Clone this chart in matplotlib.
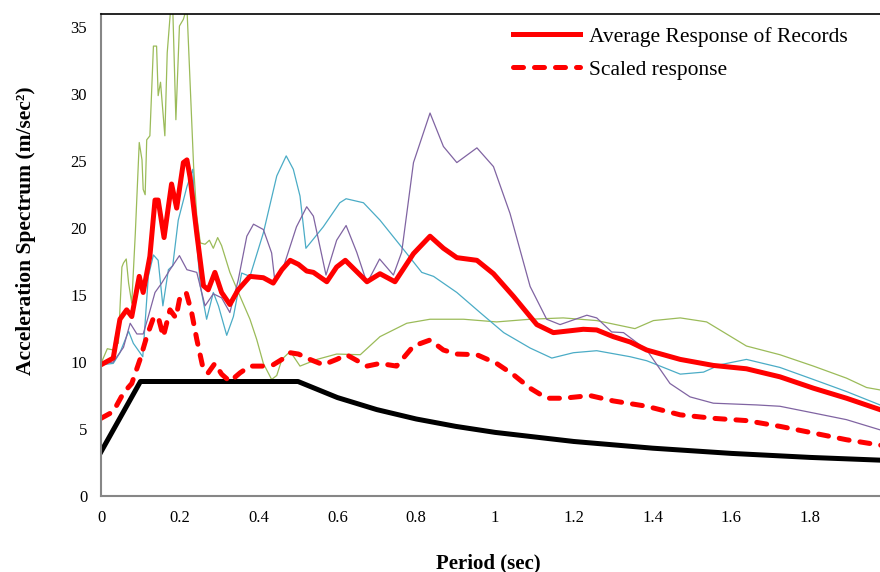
import matplotlib
matplotlib.use("Agg")
import matplotlib.pyplot as plt

plt.rcParams['font.family'] = ['Liberation Serif', 'DejaVu Serif']

# design (code) spectrum
code_t = [0, 0.1, 0.5, 0.6, 0.7, 0.8, 0.9, 1.0, 1.2, 1.4, 1.6, 1.8, 2.0]
code_s = [3.3, 8.55, 8.55, 7.35, 6.45, 5.75, 5.2, 4.75, 4.07, 3.57, 3.18, 2.88, 2.65]

# average of the records
avg_t = [0, 0.031, 0.048, 0.065, 0.078, 0.097, 0.107, 0.124, 0.137, 0.145, 0.16, 0.179,
         0.192, 0.209, 0.218, 0.226, 0.243, 0.26, 0.272, 0.289, 0.306, 0.327, 0.348,
         0.378, 0.412, 0.437, 0.459, 0.48, 0.501, 0.522, 0.539, 0.573, 0.598, 0.62,
         0.675, 0.708, 0.746, 0.793, 0.835, 0.869, 0.903, 0.954, 0.996, 1.047, 1.106,
         1.148, 1.224, 1.258, 1.3, 1.343, 1.385, 1.47, 1.554, 1.638, 1.723, 1.808,
         1.892, 1.977, 2.0]
avg_s = [9.8, 10.3, 13.2, 13.9, 13.4, 16.4, 15.2, 17.9, 22.1, 22.1, 19.3, 23.3,
         21.5, 24.9, 25.1, 23.8, 19.6, 15.7, 15.4, 16.7, 15.2, 14.3, 15.4,
         16.4, 16.3, 15.9, 16.9, 17.6, 17.3, 16.8, 16.7, 16.0, 17.1, 17.6,
         16.0, 16.6, 16.0, 18.1, 19.4, 18.5, 17.8, 17.6, 16.6, 14.9, 12.8,
         12.2, 12.45, 12.4, 11.9, 11.5, 10.9, 10.2, 9.75, 9.5, 8.9, 8.05,
         7.3, 6.45, 6.2]

# scaled response
scl_t = [0, 0.031, 0.057, 0.078, 0.099, 0.116, 0.133, 0.145, 0.158, 0.175, 0.19, 0.2,
         0.216, 0.23, 0.243, 0.26, 0.272, 0.289, 0.306, 0.327, 0.353, 0.378, 0.412,
         0.437, 0.459, 0.48, 0.501, 0.53, 0.564, 0.598, 0.623, 0.675, 0.708, 0.75,
         0.793, 0.835, 0.869, 0.903, 0.954, 1.004, 1.047, 1.089, 1.131, 1.173, 1.241,
         1.3, 1.385, 1.47, 1.554, 1.638, 1.723, 1.808, 1.892, 1.977, 2.0]
scl_s = [5.8, 6.3, 7.7, 8.4, 10.2, 11.9, 13.3, 13.4, 11.9, 13.9, 13.3, 14.8,
         15.2, 13.7, 11.7, 9.4, 9.2, 9.9, 9.1, 8.55, 9.2, 9.7, 9.7,
         9.8, 10.2, 10.7, 10.6, 10.2, 9.8, 10.2, 10.55, 9.7, 9.9, 9.7,
         11.2, 11.65, 10.9, 10.6, 10.55, 9.9, 9.05, 8.05, 7.3, 7.3, 7.5,
         7.1, 6.7, 6.06, 5.8, 5.63, 5.2, 4.7, 4.2, 3.8, 3.7]

# individual records
rec1_t = [0, 0.016, 0.031, 0.038, 0.044, 0.053, 0.057, 0.064, 0.07, 0.078, 0.087, 0.097,
          0.104, 0.107, 0.112, 0.116, 0.124, 0.133, 0.141, 0.145, 0.151, 0.162, 0.168,
          0.177, 0.182, 0.19, 0.199, 0.209, 0.218, 0.226, 0.235, 0.243, 0.252, 0.264,
          0.275, 0.285, 0.296, 0.306, 0.327, 0.353, 0.378, 0.395, 0.412, 0.433, 0.446,
          0.459, 0.48, 0.505, 0.548, 0.598, 0.658, 0.708, 0.776, 0.835, 0.92, 1.004,
          1.089, 1.173, 1.258, 1.355, 1.402, 1.47, 1.537, 1.638, 1.723, 1.808, 1.892,
          1.943, 2.0]
rec1_s = [9.9, 11.0, 10.9, 12.1, 11.4, 17.1, 17.4, 17.7, 15.9, 14.4, 19.6, 26.4,
          25.1, 22.9, 22.5, 26.6, 26.9, 33.6, 33.6, 29.9, 30.9, 26.9, 33.1,
          36.5, 36.5, 28.1, 35.1, 35.6, 36.5, 30.9, 24.6, 20.9, 18.9, 18.8,
          19.1, 18.5, 19.3, 18.7, 16.7, 14.9, 13.2, 11.7, 9.9, 8.7, 9.0,
          10.2, 10.8, 9.7, 10.2, 10.6, 10.55, 11.9, 12.9, 13.2, 13.2, 13.0,
          13.2, 13.3, 13.1, 12.5, 13.1, 13.3, 13.0, 11.2, 10.55, 9.7, 8.8,
          8.1, 7.8]

rec2_t = [0, 0.031, 0.048, 0.07, 0.082, 0.106, 0.12, 0.133, 0.145, 0.157, 0.171, 0.182,
          0.196, 0.218, 0.233, 0.241, 0.252, 0.268, 0.285, 0.298, 0.319, 0.336, 0.357,
          0.378, 0.412, 0.446, 0.47, 0.488, 0.505, 0.52, 0.564, 0.606, 0.622, 0.666,
          0.708, 0.768, 0.814, 0.844, 0.903, 0.962, 1.022, 1.089, 1.144, 1.199, 1.258,
          1.343, 1.385, 1.47, 1.529, 1.571, 1.638, 1.723, 1.808, 1.892, 1.977, 2.0]
rec2_s = [9.8, 9.9, 10.7, 12.3, 11.4, 10.4, 16.4, 18.0, 17.6, 14.2, 16.9, 17.2,
          20.6, 23.1, 24.4, 19.6, 15.7, 13.2, 15.2, 14.2, 12.0, 13.4, 16.65,
          16.4, 19.65, 23.9, 25.4, 24.4, 22.4, 18.5, 20.1, 21.9, 22.2, 21.9,
          20.6, 18.4, 16.7, 16.4, 15.2, 13.7, 12.2, 11.05, 10.3, 10.7, 10.85,
          10.4, 10.1, 9.1, 9.25, 9.8, 10.2, 9.6, 8.7, 7.8, 6.8, 6.6]

rec3_t = [0, 0.031, 0.057, 0.074, 0.091, 0.107, 0.12, 0.137, 0.154, 0.175, 0.199, 0.218,
          0.243, 0.264, 0.285, 0.306, 0.327, 0.348, 0.37, 0.387, 0.412, 0.433, 0.441,
          0.463, 0.496, 0.522, 0.539, 0.571, 0.598, 0.622, 0.649, 0.675, 0.707, 0.742,
          0.763, 0.793, 0.835, 0.869, 0.903, 0.954, 0.996, 1.038, 1.089, 1.131, 1.165,
          1.233, 1.258, 1.296, 1.326, 1.385, 1.444, 1.495, 1.554, 1.664, 1.723, 1.808,
          1.892, 1.977, 2.0]
rec3_s = [9.9, 10.0, 11.1, 12.9, 12.1, 12.1, 13.4, 15.2, 15.9, 16.9, 17.95, 16.9,
          16.7, 14.2, 15.1, 14.8, 13.7, 16.1, 19.4, 20.3, 19.9, 18.15, 16.1,
          17.1, 20.1, 21.6, 20.9, 16.5, 19.1, 20.2, 18.2, 15.9, 17.7, 16.5,
          18.2, 24.9, 28.6, 26.1, 24.9, 26.0, 24.6, 21.1, 15.65, 13.2, 12.8,
          13.5, 13.3, 12.25, 12.2, 10.9, 8.4, 7.4, 6.93, 6.8, 6.7, 6.2,
          5.7, 4.94, 4.8]

fig = plt.figure(figsize=(8.8, 5.72), dpi=100)
ax = fig.add_axes([0.1148, 0.1329, 0.8955, 0.8427])

ax.plot(rec1_t, rec1_s, color='#9BBB59', lw=0.9)
ax.plot(rec2_t, rec2_s, color='#4BACC6', lw=0.9)
ax.plot(rec3_t, rec3_s, color='#8064A2', lw=0.9)
ax.plot(code_t, code_s, color='black', lw=3.6, solid_joinstyle='round')
ax.plot(scl_t, scl_s, color='#FF0000', lw=3.6, linestyle=(0, (2.0, 2.2)),
        dash_capstyle='round', label='Scaled response')
ax.plot(avg_t, avg_s, color='#FF0000', lw=3.6, solid_joinstyle='round',
        label='Average Response of Records')

ax.set_xlim(0, 2)
ax.set_ylim(0, 36)
ax.set_xticks([0, 0.2, 0.4, 0.6, 0.8, 1, 1.2, 1.4, 1.6, 1.8])
ax.set_xticklabels(['0', '0.2', '0.4', '0.6', '0.8', '1', '1.2', '1.4', '1.6', '1.8'])
ax.set_yticks([0, 5, 10, 15, 20, 25, 30, 35])
ax.tick_params(length=0, labelsize=12)
ax.tick_params(axis='x', pad=10)
ax.tick_params(axis='y', pad=10)

for side in ['left', 'bottom']:
    ax.spines[side].set_color('#868686')
    ax.spines[side].set_linewidth(1.5)
ax.spines['top'].set_color('black')
ax.spines['top'].set_linewidth(1.2)
ax.spines['right'].set_visible(False)

ax.set_xlabel('Period (sec)', fontsize=15, fontweight='bold', labelpad=20)
ax.set_ylabel('Acceleration Spectrum (m/sec²)', fontsize=15.5, fontweight='bold', labelpad=25)
ax.xaxis.label.set_x(0.492)
ax.yaxis.label.set_y(0.55)

handles, labels = ax.get_legend_handles_labels()
leg = ax.legend(handles[::-1], labels[::-1], loc='upper left',
                bbox_to_anchor=(0.523, 0.974), frameon=False, fontsize=15.5,
                handlelength=3.1, handletextpad=0.42, labelspacing=0.6,
                borderaxespad=0, borderpad=0)

fig.savefig('out.png', dpi=100)
